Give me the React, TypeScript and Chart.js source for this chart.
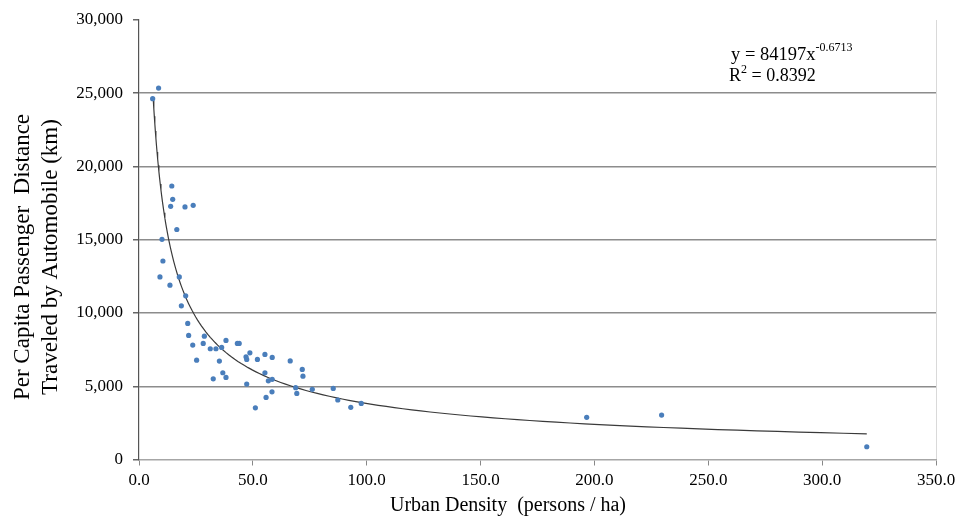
import React, { useEffect, useRef } from "react";
import { Chart, registerables } from "chart.js";

Chart.register(...registerables);

// Urban density (persons / ha)
const densityX = [
  6.0, 8.6, 14.4, 14.8, 13.9, 20.2, 23.8, 16.6, 10.1, 10.5,
  9.2, 17.7, 13.6, 20.5, 18.6, 21.4, 21.8, 23.6, 28.7, 28.2,
  31.3, 33.8, 36.3, 38.2, 43.2, 44.0, 25.3, 35.3, 32.6, 36.8,
  38.2, 47.0, 47.3, 48.7, 52.0, 55.3, 58.5, 66.4, 55.3, 56.8,
  58.5, 47.3, 58.4, 55.8, 51.1, 71.7, 72.0, 68.8, 69.3, 76.1,
  85.3, 87.3, 93.0, 97.6, 196.6, 229.5, 319.6,
];
// Per capita passenger distance travelled by automobile (km)
const distanceY = [
  24630, 25350, 18670, 17760, 17280, 17240, 17350, 15700, 15030, 13550,
  12460, 12460, 11900, 11170, 10490, 9290, 8470, 7810, 8420, 7920,
  7560, 7560, 7650, 8130, 7920, 7920, 6780, 6720, 5510, 5920,
  5600, 7010, 6830, 7280, 6830, 7170, 6970, 6730, 5920, 5370,
  5470, 5150, 4620, 4240, 3530, 6150, 5690, 4900, 4510, 4790,
  4850, 4060, 3560, 3830, 2880, 3030, 870,
];

// Power trendline shown on the chart: y = 84197 x^-0.6713
const trendCoef = 84197;
const trendExp = -0.6713;
const trendStartX = 6.3;
const trendEndX = 319.6;
const trendLabel = "y = 84197x";
const trendLabelExp = "-0.6713";
const r2Label = "R";
const r2Value = " = 0.8392";

const xTickValues = [0, 50, 100, 150, 200, 250, 300, 350];
const yTickValues = [0, 5000, 10000, 15000, 20000, 25000, 30000];
const xTitle = "Urban Density  (persons / ha)";
const yTitle = ["Per Capita Passenger  Distance", "Traveled by Automobile (km)"];

const SERIF = '"Liberation Serif", "Times New Roman", serif';

function buildTrend() {
  const pts: { x: number; y: number }[] = [];
  const n = 120;
  const l0 = Math.log(trendStartX);
  const l1 = Math.log(trendEndX);
  for (let i = 0; i <= n; i++) {
    const x = Math.exp(l0 + ((l1 - l0) * i) / n);
    pts.push({ x, y: trendCoef * Math.pow(x, trendExp) });
  }
  return pts;
}

function drawEquation(ctx: CanvasRenderingContext2D) {
  ctx.save();
  ctx.fillStyle = "#000";
  ctx.textAlign = "left";
  ctx.textBaseline = "alphabetic";
  const ex = 731;
  ctx.font = `18.5px ${SERIF}`;
  ctx.fillText(trendLabel, ex, 60);
  const w1 = ctx.measureText(trendLabel).width;
  ctx.font = `12px ${SERIF}`;
  ctx.fillText(trendLabelExp, ex + w1, 51);
  ctx.font = `18px ${SERIF}`;
  ctx.fillText(r2Label, ex - 2, 81);
  const wr = ctx.measureText(r2Label).width;
  ctx.font = `12px ${SERIF}`;
  ctx.fillText("2", ex - 2 + wr, 73);
  const w2 = ctx.measureText("2").width;
  ctx.font = `18px ${SERIF}`;
  ctx.fillText(r2Value, ex - 2 + wr + w2, 81);
  ctx.restore();
}

const titlesPlugin = {
  id: "titlesPlugin",
  afterDraw(chart: any) {
    const ctx = chart.ctx as CanvasRenderingContext2D;
    ctx.save();
    ctx.fillStyle = "#000";
    ctx.font = `23px ${SERIF}`;
    ctx.textAlign = "center";
    ctx.textBaseline = "middle";
    ctx.translate(23, 257);
    ctx.rotate(-Math.PI / 2);
    ctx.fillText(yTitle[0], 0, 0);
    ctx.fillText(yTitle[1], 0, 28);
    ctx.restore();
    ctx.save();
    ctx.fillStyle = "#000";
    ctx.font = `20px ${SERIF}`;
    ctx.textAlign = "center";
    ctx.textBaseline = "middle";
    ctx.fillText(xTitle, 508, 506);
    ctx.restore();
    drawEquation(ctx);
  },
};

export default function App() {
  const canvasRef = useRef<HTMLCanvasElement | null>(null);

  useEffect(() => {
    document.body.style.margin = "0";
    const canvas = canvasRef.current;
    if (!canvas) return;
    const points = densityX.map((x, i) => ({ x, y: distanceY[i] }));
    const chart = new Chart(canvas, {
      type: "scatter",
      data: {
        datasets: [
          {
            type: "line",
            label: "Power trend",
            data: buildTrend(),
            borderColor: "#3a3a3a",
            borderWidth: 1.2,
            pointRadius: 0,
            fill: false,
            tension: 0,
            order: 2,
          } as any,
          {
            label: "Cities",
            data: points,
            backgroundColor: "#4a7ebb",
            borderColor: "#4a7ebb",
            pointRadius: 2.6,
            pointBorderWidth: 0,
            order: 1,
          },
        ],
      },
      options: {
        animation: false,
        responsive: false,
        maintainAspectRatio: false,
        layout: { padding: { top: 20, right: 21, left: 0, bottom: 0 } },
        plugins: {
          legend: { display: false },
          tooltip: { enabled: false },
        },
        scales: {
          x: {
            type: "linear",
            min: 0,
            max: 350,
            afterBuildTicks: (s: any) => {
              s.ticks = xTickValues.map((v) => ({ value: v }));
            },
            afterFit: (s: any) => {
              s.height = 58.5;
              s.paddingLeft = 0;
              s.paddingRight = 0;
            },
            ticks: {
              color: "#000",
              font: { family: SERIF, size: 17 },
              padding: 5,
              maxRotation: 0,
              callback: (v: any) => Number(v).toFixed(1),
            },
            grid: {
              drawOnChartArea: true,
              color: (c: any) =>
                c.tick && c.tick.value === 350 ? "#d9d9d9" : "rgba(0,0,0,0)",
              tickColor: "#888",
              tickLength: 6,
            },
            border: { display: true, color: "#a6a6a6", width: 1.5 },
          },
          y: {
            type: "linear",
            min: 0,
            max: 30000,
            afterBuildTicks: (s: any) => {
              s.ticks = yTickValues.map((v) => ({ value: v }));
            },
            afterFit: (s: any) => {
              s.width = 139;
              s.paddingTop = 0;
              s.paddingBottom = 0;
            },
            ticks: {
              color: "#000",
              font: { family: SERIF, size: 17 },
              padding: 10,
              callback: (v: any) => Number(v).toLocaleString("en-US"),
            },
            grid: {
              color: (c: any) =>
                c.tick && (c.tick.value === 30000 || c.tick.value === 0)
                  ? "rgba(0,0,0,0)"
                  : "#8c8c8c",
              lineWidth: 1.5,
              tickColor: "#666",
              tickLength: 6,
            },
            border: { display: true, color: "#555", width: 1.2 },
          },
        },
      },
      plugins: [titlesPlugin],
    });
    return () => chart.destroy();
  }, []);

  return (
    <div style={{ width: 957, height: 518, background: "#fff" }}>
      <canvas ref={canvasRef} width={957} height={518} style={{ display: "block" }} />
    </div>
  );
}
